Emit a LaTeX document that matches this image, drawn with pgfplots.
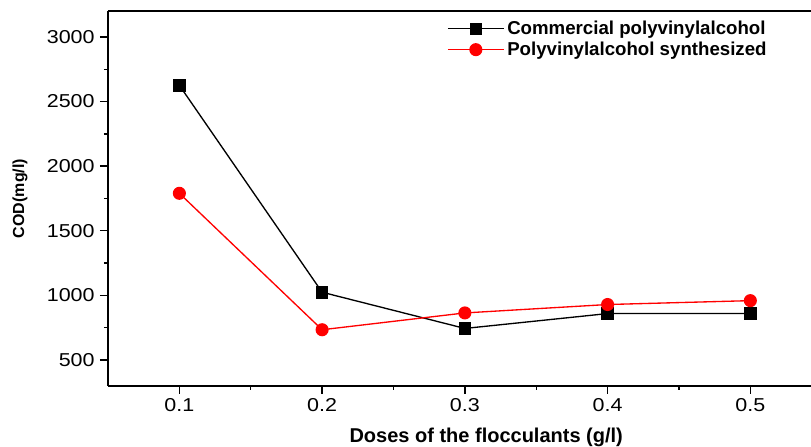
\documentclass[border=0pt]{standalone}
\usepackage{pgfplots}
\pgfplotsset{compat=1.18}
\usepackage{fontspec}
\setmainfont{Liberation Sans}
\usetikzlibrary{calc}
\begin{document}
\begin{tikzpicture}
\begin{axis}[name=ax,
  scale only axis, width=527.25pt, height=281.25pt,
  xmin=0.05, xmax=0.5425, ymin=300, ymax=3200,
  axis x line=box, axis y line*=left,
  xtick={0.1,0.2,0.3,0.4,0.5}, ytick={500,1000,...,3000},
  minor tick num=1,
  xtick pos=bottom, ytick pos=left,
  tick align=outside, major tick length=6pt, minor tick length=3pt,
  every tick/.style={black, line width=1pt},
  axis line style={line width=1.2pt},
  scaled ticks=false,
  /pgf/number format/1000 sep={},
  /pgf/number format/assume math mode=true,
  tick label style={font=\fontsize{14}{16}\selectfont, xscale=1.15},
  xlabel={Doses of the flocculants (g/l)},
  ylabel={COD(mg/l)},
  xlabel style={at={(axis description cs:0.538,-0.136)}, anchor=center, font=\bfseries\fontsize{15}{18}\selectfont},
  ylabel style={at={(axis description cs:-0.125,0.5)}, anchor=center, font=\bfseries\fontsize{12}{14}\selectfont},
  legend style={at={(axis description cs:0.482,0.981)}, anchor=north west, draw=none, fill=none,
    font=\bfseries\fontsize{14}{16}\selectfont, inner sep=0pt, row sep=0pt},
  legend cell align=left,
  legend image code/.code={\draw[mark repeat=2,mark phase=2] plot coordinates {(0cm,0cm)(0.74cm,0cm)(1.48cm,0cm)};},
]
\addplot[black, line width=1pt, mark=square*, mark size=4.2pt, mark options={solid}] coordinates {
  (0.1,2625) (0.2,1025) (0.3,745) (0.4,860) (0.5,860)};
\addlegendentry{Commercial polyvinylalcohol}
\addplot[red, line width=1pt, mark=*, mark size=4.4pt, mark options={solid}] coordinates {
  (0.1,1790) (0.2,735) (0.3,865) (0.4,930) (0.5,960)};
\addlegendentry{Polyvinylalcohol synthesized}
\end{axis}
\pgfresetboundingbox
\path ($(ax.south west)+(-81pt,-45.75pt)$) rectangle ($(ax.north east)+(0pt,8.25pt)$);
\end{tikzpicture}
\end{document}
